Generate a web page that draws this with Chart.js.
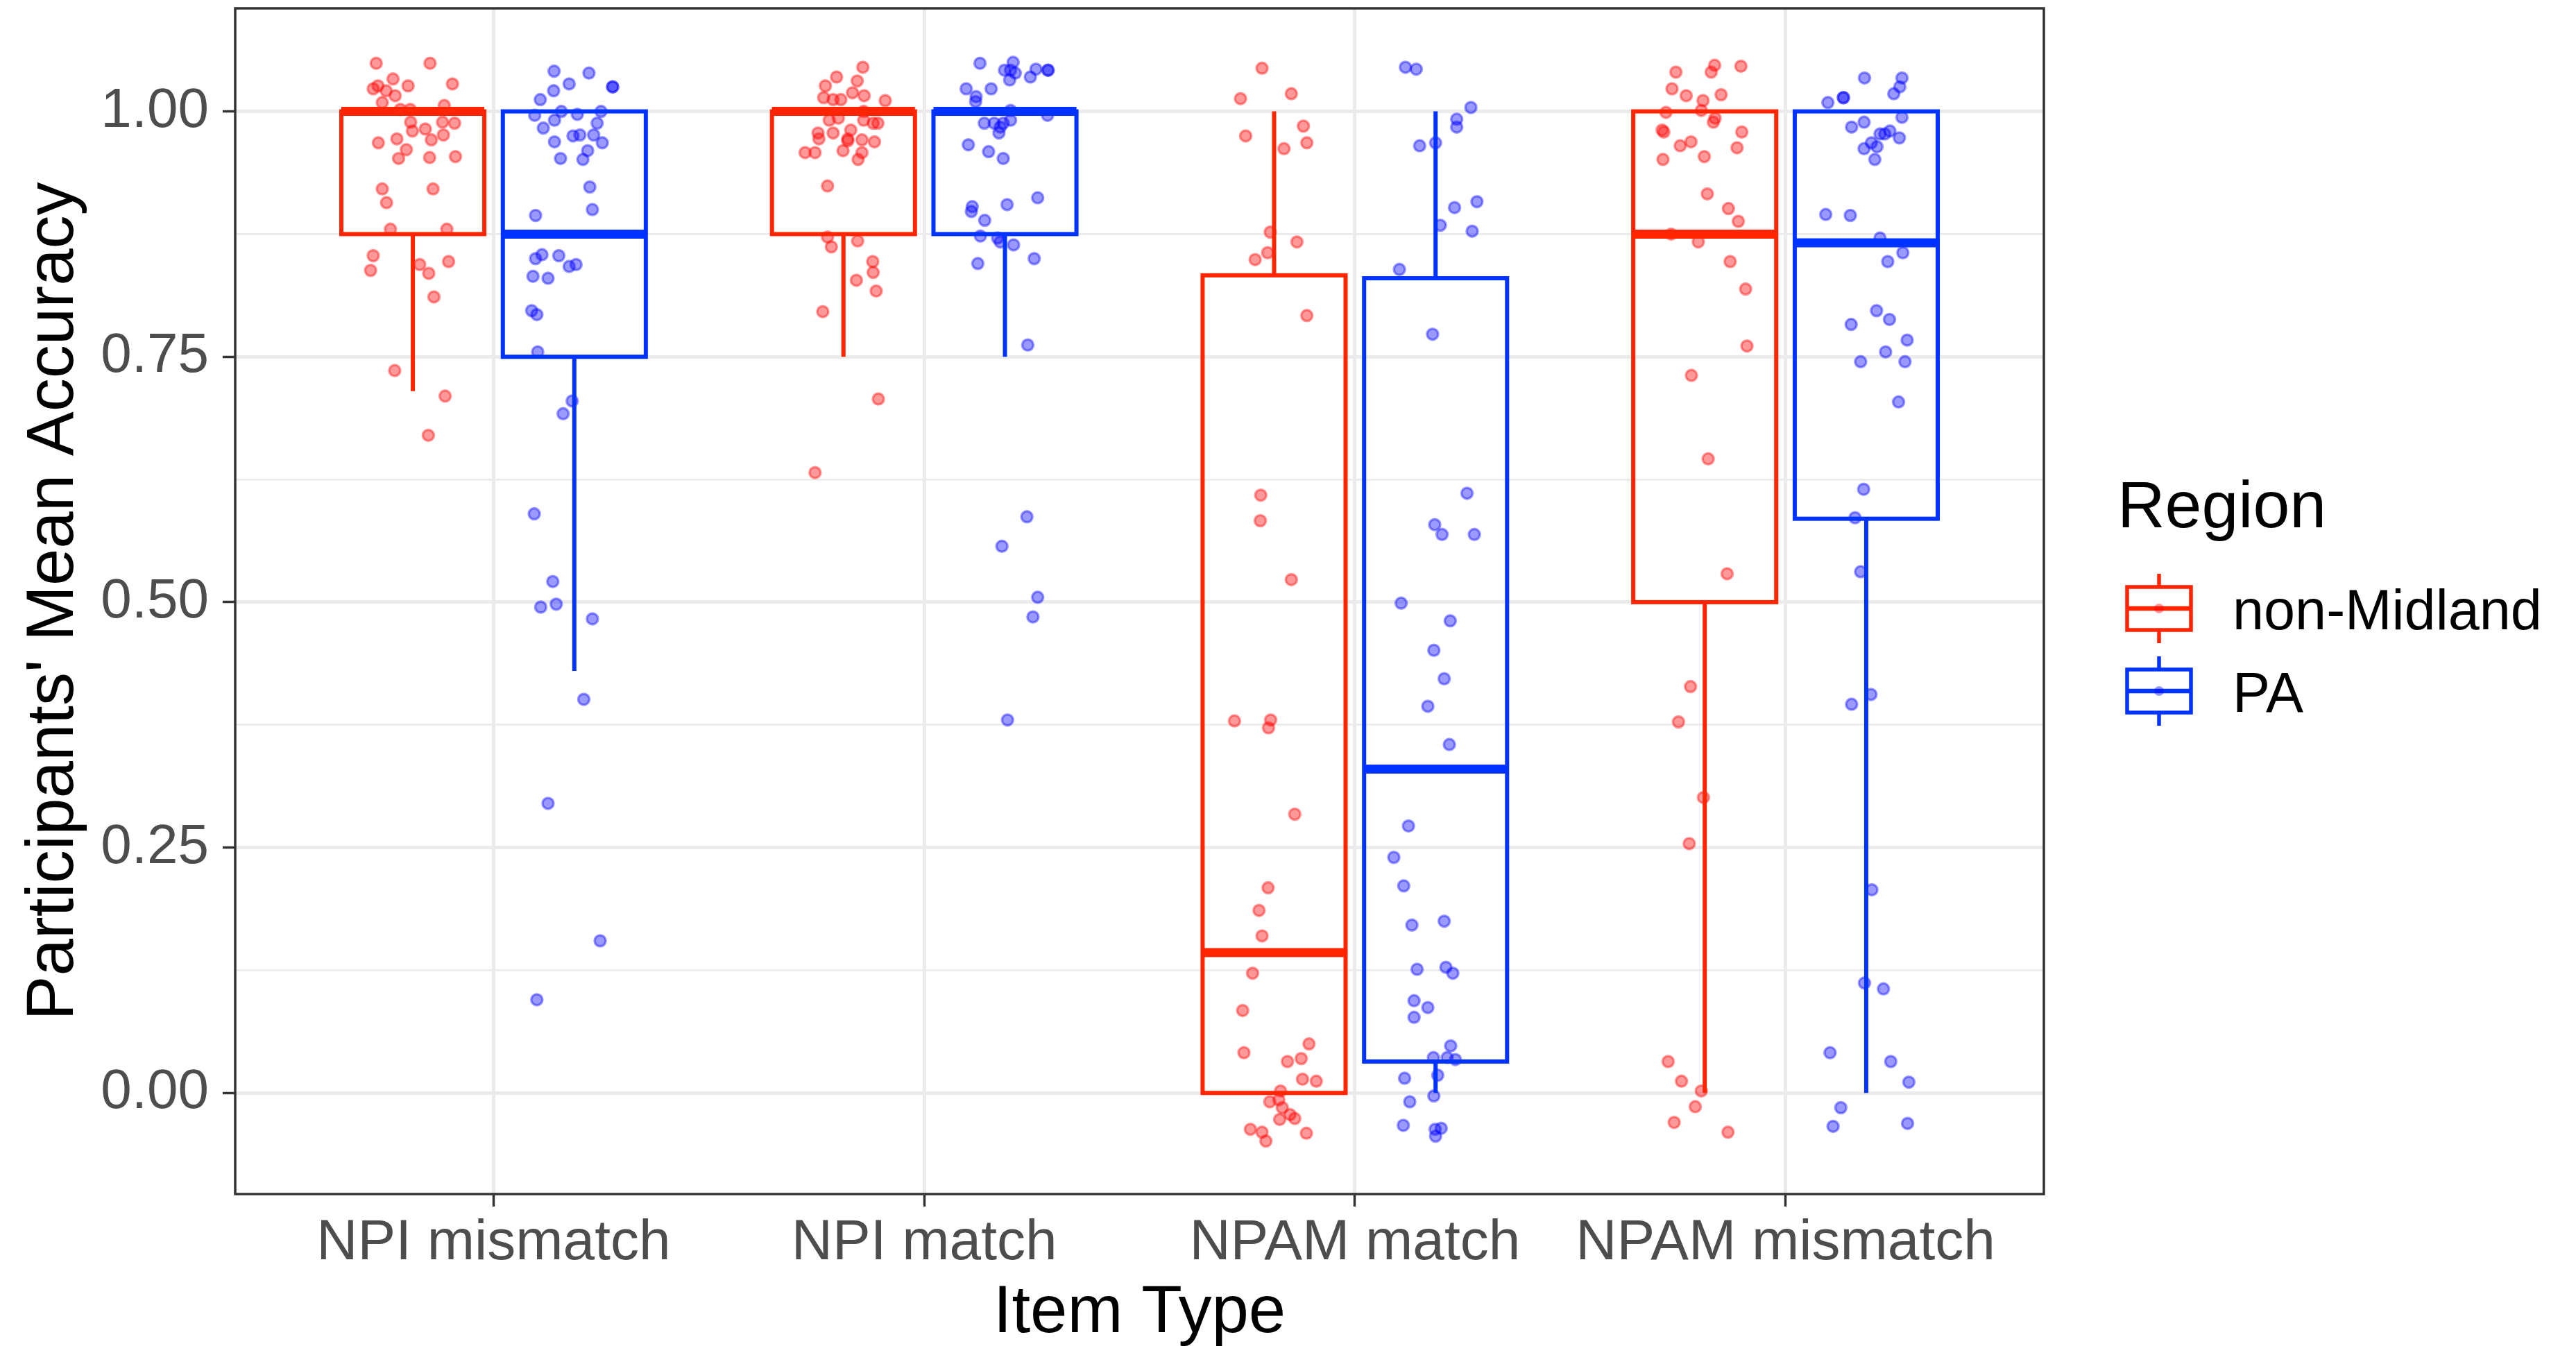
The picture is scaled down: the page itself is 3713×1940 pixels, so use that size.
<!DOCTYPE html>
<html>
<head>
<meta charset="utf-8">
<script src="https://cdn.jsdelivr.net/npm/chart.js@4.4.0/dist/chart.umd.min.js"></script>
<style>
  html, body { margin: 0; padding: 0; background: #ffffff; }
  canvas { display: block; }
</style>
</head>
<body>
<canvas id="chart" width="3713" height="1940" style="width:3713px;height:1940px"></canvas>
<script>
// categories and legend
const categories = ["NPI mismatch", "NPI match", "NPAM match", "NPAM mismatch"];
const regions = ["non-Midland", "PA"];

// y axis ticks
const yMajorTicks = [0, 0.25, 0.5, 0.75, 1];
const yMinorTicks = [0.125, 0.375, 0.625, 0.875];
const yTickLabels = ["0.00", "0.25", "0.50", "0.75", "1.00"];

// box statistics, one value per category
const nonMidlandWhiskerLow = [0.715, 0.75, 0, 0];
const nonMidlandQ1 = [0.875, 0.875, 0, 0.5];
const nonMidlandMedian = [1, 1, 0.143, 0.875];
const nonMidlandQ3 = [1, 1, 0.833, 1];
const nonMidlandWhiskerHigh = [1, 1, 1, 1];

const paWhiskerLow = [0.43, 0.75, 0, 0];
const paQ1 = [0.75, 0.875, 0.032, 0.585];
const paMedian = [0.875, 1, 0.33, 0.866];
const paQ3 = [1, 1, 0.83, 1];
const paWhiskerHigh = [1, 1, 1, 1];

// participants: [jitter offset, mean accuracy]
const nonMidlandNpiMismatch = [
  [-0.085,1.049],[0.040,1.049],[-0.046,1.033],[-0.011,1.026],[0.092,1.028],
  [-0.092,1.023],[-0.081,1.026],[-0.062,1.021],[-0.041,1.016],[-0.071,1.009],
  [0.073,1.006],[-0.029,1.002],[-0.006,1.002],[-0.005,0.989],[0.069,0.989],
  [0.097,0.988],[-0.001,0.980],[0.029,0.982],[0.071,0.976],[0.043,0.971],
  [-0.037,0.972],[-0.080,0.968],[-0.015,0.961],[-0.033,0.952],[0.039,0.953],
  [0.099,0.954],[-0.071,0.921],[0.047,0.921],[-0.061,0.907],[-0.052,0.880],
  [0.079,0.880],[-0.092,0.853],[-0.098,0.838],[0.016,0.844],[0.037,0.835],
  [0.083,0.847],[0.049,0.811],[-0.042,0.736],[0.075,0.710],[0.036,0.670]
];
const paNpiMismatch = [
  [-0.047,1.041],[0.034,1.039],[-0.012,1.028],[0.089,1.025],[0.089,1.025],
  [-0.048,1.021],[-0.079,1.012],[-0.092,0.996],[-0.030,1.000],[0.007,0.997],
  [0.062,1.000],[-0.046,0.991],[-0.072,0.983],[0.053,0.988],[-0.003,0.975],
  [0.013,0.976],[0.045,0.976],[-0.046,0.969],[0.065,0.968],[0.031,0.960],
  [-0.032,0.952],[0.020,0.951],[0.036,0.923],[0.042,0.900],[-0.090,0.894],
  [-0.090,0.850],[-0.075,0.854],[-0.036,0.853],[-0.012,0.842],[0.004,0.844],
  [-0.096,0.832],[-0.061,0.830],[-0.099,0.797],[-0.087,0.793],[-0.085,0.755],
  [-0.005,0.705],[-0.026,0.692],[-0.093,0.590],[-0.050,0.521],[-0.042,0.498],
  [-0.078,0.495],[0.042,0.483],[0.022,0.401],[-0.061,0.295],[0.060,0.155],
  [-0.087,0.095]
];
const nonMidlandNpiMatch = [
  [0.045,1.045],[-0.016,1.035],[0.032,1.031],[-0.042,1.026],[0.021,1.019],
  [-0.046,1.014],[-0.024,1.012],[-0.006,1.012],[0.048,1.016],[0.097,1.011],
  [0.047,1.000],[-0.033,0.991],[-0.012,0.993],[0.047,0.991],[0.069,0.988],
  [0.080,0.988],[-0.059,0.978],[-0.057,0.972],[-0.024,0.978],[0.017,0.981],
  [0.010,0.972],[0.010,0.970],[0.043,0.971],[0.072,0.969],[-0.089,0.958],
  [-0.066,0.958],[-0.001,0.960],[0.043,0.958],[0.034,0.951],[-0.037,0.924],
  [-0.037,0.872],[-0.028,0.862],[0.033,0.868],[0.068,0.847],[0.069,0.836],
  [0.030,0.828],[0.076,0.817],[-0.048,0.796],[0.081,0.707],[-0.066,0.632]
];
const paNpiMatch = [
  [-0.058,1.049],[0.019,1.050],[-0.001,1.042],[0.013,1.042],[0.024,1.039],
  [0.011,1.032],[0.072,1.043],[0.059,1.035],[0.100,1.042],[0.100,1.042],
  [-0.090,1.023],[-0.032,1.023],[-0.067,1.015],[-0.068,1.010],[0.013,1.001],
  [0.099,0.996],[-0.048,0.988],[-0.025,0.988],[-0.011,0.984],[-0.014,0.978],
  [0.013,0.991],[-0.004,0.988],[-0.085,0.966],[-0.038,0.959],[-0.004,0.952],
  [0.076,0.912],[-0.076,0.903],[-0.078,0.898],[0.005,0.905],[-0.047,0.889],
  [-0.057,0.873],[-0.017,0.871],[-0.011,0.867],[0.020,0.864],[0.068,0.850],
  [-0.063,0.845],[0.053,0.762],[0.051,0.587],[-0.007,0.557],[0.076,0.505],
  [0.065,0.485],[0.006,0.380]
];
const nonMidlandNpamMatch = [
  [-0.028,1.044],[-0.078,1.013],[0.040,1.018],[0.068,0.985],[-0.066,0.975],
  [0.076,0.968],[0.023,0.962],[-0.009,0.877],[0.053,0.867],[-0.015,0.856],
  [-0.044,0.849],[0.076,0.792],[-0.031,0.609],[-0.032,0.583],[0.040,0.523],
  [-0.092,0.379],[-0.008,0.380],[-0.013,0.372],[0.048,0.284],[-0.014,0.209],
  [-0.035,0.186],[-0.028,0.160],[-0.050,0.122],[-0.073,0.084],[-0.070,0.041],
  [0.081,0.050],[0.063,0.035],[0.031,0.032],[0.066,0.014],[0.098,0.012],
  [0.015,0.002],[-0.010,-0.009],[0.011,-0.007],[0.019,-0.015],[0.037,-0.022],
  [0.048,-0.026],[0.013,-0.027],[-0.055,-0.037],[-0.028,-0.040],[-0.019,-0.049],
  [0.075,-0.041]
];
const paNpamMatch = [
  [-0.070,1.045],[-0.045,1.043],[0.082,1.004],[0.049,0.992],[0.049,0.984],
  [-0.037,0.965],[0.000,0.968],[0.096,0.908],[0.044,0.902],[0.011,0.884],
  [0.085,0.878],[-0.084,0.839],[-0.007,0.773],[0.073,0.611],[-0.002,0.579],
  [0.015,0.569],[0.090,0.569],[-0.080,0.499],[0.034,0.481],[-0.004,0.451],
  [0.020,0.422],[-0.018,0.394],[0.032,0.355],[-0.063,0.272],[-0.097,0.240],
  [-0.074,0.211],[-0.055,0.171],[0.020,0.175],[-0.043,0.126],[0.024,0.128],
  [0.040,0.122],[-0.050,0.094],[-0.018,0.087],[-0.050,0.077],[0.035,0.048],
  [-0.005,0.036],[0.027,0.036],[0.046,0.034],[0.005,0.018],[-0.072,0.015],
  [-0.004,-0.003],[-0.060,-0.009],[-0.075,-0.033],[-0.001,-0.037],[0.013,-0.036],
  [0.000,-0.044]
];
const nonMidlandNpamMismatch = [
  [-0.067,1.040],[0.023,1.047],[0.015,1.040],[0.084,1.046],[-0.076,1.023],
  [-0.043,1.016],[-0.004,1.011],[0.038,1.017],[-0.090,0.999],[-0.008,1.001],
  [0.024,0.993],[0.020,0.989],[-0.099,0.981],[-0.095,0.979],[0.086,0.979],
  [-0.057,0.965],[-0.032,0.969],[0.075,0.963],[-0.097,0.951],[-0.001,0.954],
  [0.006,0.916],[0.055,0.901],[0.078,0.888],[-0.078,0.875],[-0.015,0.867],
  [0.059,0.847],[0.095,0.819],[0.098,0.761],[-0.031,0.731],[0.008,0.646],
  [0.052,0.529],[-0.033,0.414],[-0.061,0.378],[-0.003,0.301],[-0.036,0.254],
  [-0.085,0.032],[-0.054,0.012],[-0.008,0.002],[-0.022,-0.014],[-0.071,-0.030],
  [0.054,-0.040]
];
const paNpamMismatch = [
  [-0.004,1.034],[0.083,1.034],[0.078,1.025],[0.064,1.018],[-0.089,1.009],
  [-0.053,1.014],[-0.053,1.014],[0.083,0.994],[-0.034,0.984],[-0.005,0.989],
  [0.032,0.977],[0.055,0.980],[0.043,0.977],[0.077,0.973],[0.012,0.968],
  [-0.005,0.962],[0.025,0.964],[0.020,0.951],[-0.094,0.895],[-0.037,0.894],
  [0.032,0.871],[0.085,0.856],[0.050,0.847],[0.024,0.797],[0.054,0.788],
  [-0.035,0.783],[0.095,0.767],[0.045,0.755],[-0.013,0.745],[0.090,0.745],
  [0.075,0.704],[-0.006,0.615],[-0.026,0.586],[-0.013,0.531],[0.011,0.406],
  [-0.034,0.396],[0.013,0.207],[-0.004,0.112],[0.040,0.106],[-0.084,0.041],
  [0.057,0.032],[0.099,0.011],[-0.059,-0.015],[-0.077,-0.034],[0.096,-0.031]
];

const RED = "#FF2500";
const BLUE = "#0033FF";
const RED_PT = "rgba(255,0,0,0.4)";
const BLUE_PT = "rgba(0,0,255,0.4)";
const FONT = "'Liberation Sans', Arial, Helvetica, sans-serif";
const DODGE = 0.1875;   // half the dodge width
const HALF_BOX = 0.166; // half a box width

const nonMidlandGroups = [nonMidlandNpiMismatch, nonMidlandNpiMatch, nonMidlandNpamMatch, nonMidlandNpamMismatch];
const paGroups = [paNpiMismatch, paNpiMatch, paNpamMatch, paNpamMismatch];

function toPoints(groups, side) {
  return groups.flatMap((pts, i) => pts.map(([dx, v]) => ({ x: i + 1 + side * DODGE + dx, y: v })));
}

const boxSets = [
  { side: -1, color: RED, pt: RED_PT, lo: nonMidlandWhiskerLow, q1: nonMidlandQ1, med: nonMidlandMedian, q3: nonMidlandQ3, hi: nonMidlandWhiskerHigh },
  { side: 1, color: BLUE, pt: BLUE_PT, lo: paWhiskerLow, q1: paQ1, med: paMedian, q3: paQ3, hi: paWhiskerHigh }
];

const isMajor = v => yMajorTicks.some(t => Math.abs(t - v) < 1e-6);

// boxes, drawn over the jittered points
const boxPlugin = {
  id: "boxes",
  afterDatasetsDraw(chart) {
    const { ctx, scales: { x, y } } = chart;
    ctx.save();
    ctx.lineCap = "butt";
    ctx.lineJoin = "miter";
    boxSets.forEach(b => {
      ctx.strokeStyle = b.color;
      categories.forEach((c, i) => {
        const cx = x.getPixelForValue(i + 1 + b.side * DODGE);
        const x0 = x.getPixelForValue(i + 1 + b.side * DODGE - HALF_BOX);
        const x1 = x.getPixelForValue(i + 1 + b.side * DODGE + HALF_BOX);
        const yq1 = y.getPixelForValue(b.q1[i]);
        const yq3 = y.getPixelForValue(b.q3[i]);
        ctx.lineWidth = 6;
        ctx.beginPath();
        ctx.moveTo(cx, yq3); ctx.lineTo(cx, y.getPixelForValue(b.hi[i]));
        ctx.moveTo(cx, yq1); ctx.lineTo(cx, y.getPixelForValue(b.lo[i]));
        ctx.stroke();
        ctx.strokeRect(x0, yq3, x1 - x0, yq1 - yq3);
        ctx.lineWidth = 13;
        ctx.beginPath();
        const ym = y.getPixelForValue(b.med[i]);
        ctx.moveTo(x0, ym); ctx.lineTo(x1, ym);
        ctx.stroke();
      });
    });
    ctx.restore();
  },
  afterDraw(chart) {
    const { ctx, chartArea: a } = chart;
    ctx.save();
    // panel border
    ctx.strokeStyle = "#333333";
    ctx.lineWidth = 3.5;
    ctx.strokeRect(a.left, a.top, a.right - a.left, a.bottom - a.top);

    // axis titles
    ctx.fillStyle = "#000000";
    ctx.font = "96px " + FONT;
    ctx.textAlign = "center";
    ctx.textBaseline = "alphabetic";
    ctx.fillText("Item Type", (a.left + a.right) / 2, 1920);
    ctx.save();
    ctx.translate(105, (a.top + a.bottom) / 2);
    ctx.rotate(-Math.PI / 2);
    ctx.fillText("Participants' Mean Accuracy", 0, 0);
    ctx.restore();

    // legend
    ctx.textAlign = "left";
    ctx.font = "95px " + FONT;
    ctx.fillText("Region", 3052, 760);
    ctx.font = "81px " + FONT;
    const gx = 3112;
    [877, 996].forEach((gy, k) => {
      const b = boxSets[k];
      ctx.strokeStyle = b.color;
      ctx.lineWidth = 5.5;
      ctx.beginPath();
      ctx.moveTo(gx, gy - 50); ctx.lineTo(gx, gy - 31);
      ctx.moveTo(gx, gy + 31); ctx.lineTo(gx, gy + 50);
      ctx.stroke();
      ctx.strokeRect(gx - 46, gy - 31, 92, 62);
      ctx.lineWidth = 6.5;
      ctx.beginPath();
      ctx.moveTo(gx - 46, gy); ctx.lineTo(gx + 46, gy);
      ctx.stroke();
      ctx.fillStyle = b.pt;
      ctx.beginPath();
      ctx.arc(gx, gy, 7, 0, Math.PI * 2);
      ctx.fill();
      ctx.fillStyle = "#000000";
      ctx.fillText(regions[k], 3218, gy + 30);
    });
    ctx.restore();
  }
};

new Chart(document.getElementById("chart"), {
  type: "scatter",
  data: {
    datasets: boxSets.map((b, k) => ({
      label: regions[k],
      data: toPoints(k === 0 ? nonMidlandGroups : paGroups, b.side),
      backgroundColor: b.pt,
      borderColor: b.pt,
      borderWidth: 3.5,
      pointRadius: 8,
      pointHoverRadius: 8
    }))
  },
  options: {
    responsive: false,
    animation: false,
    devicePixelRatio: 1,
    layout: { padding: { top: 12, right: 767, left: 0, bottom: 0 } },
    plugins: { legend: { display: false }, tooltip: { enabled: false } },
    scales: {
      x: {
        type: "linear",
        min: 0.4,
        max: 4.6,
        afterBuildTicks: s => { s.ticks = categories.map((c, i) => ({ value: i + 1 })); },
        afterFit: s => { s.height = 219; s.paddingLeft = 0; s.paddingRight = 0; },
        ticks: {
          callback: (v, i) => categories[i],
          font: { family: FONT, size: 82 },
          color: "#4D4D4D",
          padding: 4,
          maxRotation: 0,
          autoSkip: false
        },
        grid: { color: "#EBEBEB", lineWidth: 5, tickColor: "#333333", tickWidth: 3.5, tickLength: 18 },
        border: { display: false }
      },
      y: {
        min: -0.103,
        max: 1.105,
        afterBuildTicks: s => {
          s.ticks = [...yMajorTicks, ...yMinorTicks].sort((p, q) => p - q).map(v => ({ value: v }));
        },
        afterFit: s => { s.width = 339; s.paddingTop = 0; s.paddingBottom = 0; },
        ticks: {
          callback: v => isMajor(v) ? yTickLabels[yMajorTicks.findIndex(t => Math.abs(t - v) < 1e-6)] : "",
          font: { family: FONT, size: 80 },
          color: "#4D4D4D",
          padding: 20,
          autoSkip: false
        },
        grid: {
          color: "#EBEBEB",
          lineWidth: c => isMajor(c.tick.value) ? 5 : 2.8,
          tickColor: c => isMajor(c.tick.value) ? "#333333" : "rgba(0,0,0,0)",
          tickWidth: 3.5,
          tickLength: 18
        },
        border: { display: false }
      }
    }
  },
  plugins: [boxPlugin]
});
</script>
</body>
</html>
